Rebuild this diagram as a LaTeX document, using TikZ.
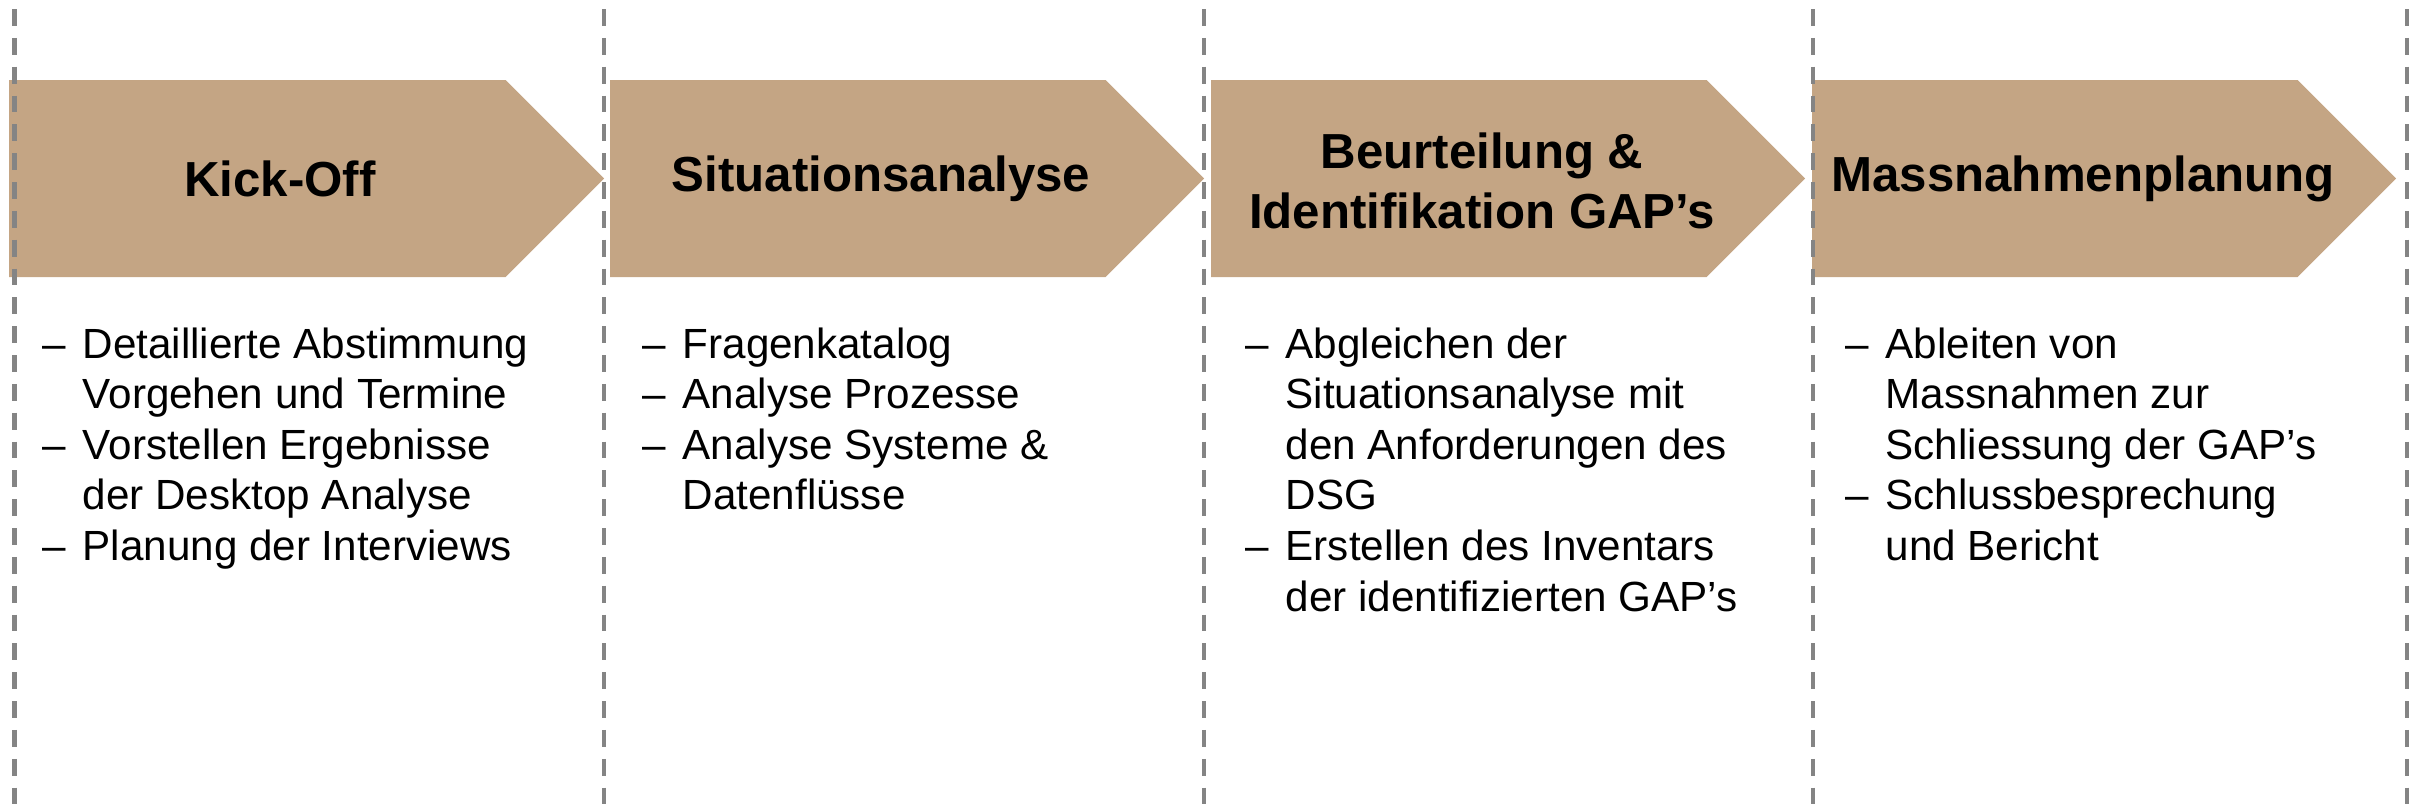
\documentclass[tikz,border=0pt]{standalone}
\usepackage{fontspec}
\setmainfont{Liberation Sans}
\usepackage{array}
\definecolor{phasefill}{RGB}{196,165,132}
\definecolor{sepgray}{RGB}{132,132,132}

\newcommand{\tasks}[1]{\begin{tabular}[t]{@{}p{0.40cm}@{}l@{}}#1\end{tabular}}

\begin{document}
\begin{tikzpicture}[x=0.01cm,y=-0.01cm,
    phase arrow/.style={fill=phasefill},
    separator/.style={draw=sepgray,line width=1.3pt,dash pattern=on 4.8pt off 3.4pt},
    phase title/.style={font=\fontsize{14}{17}\selectfont\bfseries,align=center,inner sep=0pt},
    task list/.style={font=\fontsize{12}{14.4}\selectfont,anchor=base west,inner sep=0pt}]

  \useasboundingbox (0,0) rectangle (2417,809);

  % phase arrows
  \fill[phase arrow] (9,80) -- (505.5,80) -- (604,178.5) -- (505.5,277) -- (9,277) -- cycle;
  \fill[phase arrow] (610,80) -- (1105.5,80) -- (1204,178.5) -- (1105.5,277) -- (610,277) -- cycle;
  \fill[phase arrow] (1211,80) -- (1706.5,80) -- (1805,178.5) -- (1706.5,277) -- (1211,277) -- cycle;
  \fill[phase arrow] (1812,80) -- (2297.5,80) -- (2396,178.5) -- (2297.5,277) -- (1812,277) -- cycle;

  % column separators
  \draw[separator] (14.5,9) -- (14.5,809);
  \draw[separator] (604,9) -- (604,809);
  \draw[separator] (1204,9) -- (1204,809);
  \draw[separator] (1813,9) -- (1813,809);
  \draw[separator] (2407,9) -- (2407,809);

  % phase titles
  \node[phase title] (kickoff) at (280,178.5) {Kick-Off};
  \node[phase title] (situation) at (881,178.5) {Situationsanalyse};
  \node[phase title] (gaps) at (1482,181) {Beurteilung \&\\Identifikation GAP’s};
  \node[phase title] (measures) at (2083,178.5) {Massnahmenplanung};

  % tasks per phase
  \node[task list] (kickoff tasks) at (42,358) {\tasks{
    -- & Detaillierte Abstimmung\\
       & Vorgehen und Termine\\
    -- & Vorstellen Ergebnisse\\
       & der Desktop Analyse\\
    -- & Planung der Interviews}};
  \node[task list] (situation tasks) at (642,358) {\tasks{
    -- & Fragenkatalog\\
    -- & Analyse Prozesse\\
    -- & Analyse Systeme \&\\
       & Datenflüsse}};
  \node[task list] (gaps tasks) at (1245,358) {\tasks{
    -- & Abgleichen der\\
       & Situationsanalyse mit\\
       & den Anforderungen des\\
       & DSG\\
    -- & Erstellen des Inventars\\
       & der identifizierten GAP’s}};
  \node[task list] (measures tasks) at (1845,358) {\tasks{
    -- & Ableiten von\\
       & Massnahmen zur\\
       & Schliessung der GAP’s\\
    -- & Schlussbesprechung\\
       & und Bericht}};
\end{tikzpicture}
\end{document}
